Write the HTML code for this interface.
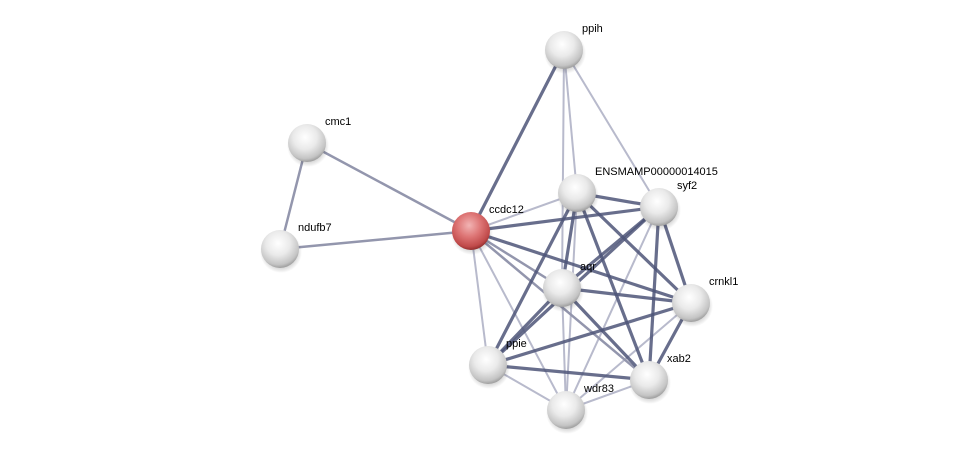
<!DOCTYPE html>
<html><head><meta charset="utf-8"><style>
html,body{margin:0;padding:0;background:#fff;}
svg{display:block;}
text{font-family:"Liberation Sans",sans-serif;font-size:11px;fill:#000;}
</style></head><body>
<svg width="975" height="455" viewBox="0 0 975 455">
<defs>
<radialGradient id="w" cx="0.45" cy="0.35" r="0.7">
<stop offset="0" stop-color="#ffffff"/><stop offset="0.45" stop-color="#eaeaea"/><stop offset="0.8" stop-color="#c4c4c4"/><stop offset="1" stop-color="#8a8a8a"/></radialGradient>
<radialGradient id="r" cx="0.45" cy="0.35" r="0.7">
<stop offset="0" stop-color="#f2b4b4"/><stop offset="0.45" stop-color="#dd7474"/><stop offset="0.8" stop-color="#c04a4a"/><stop offset="1" stop-color="#7a2020"/></radialGradient>
<radialGradient id="sh" cx="0.5" cy="0.5" r="0.5">
<stop offset="0.6" stop-color="#000" stop-opacity="0.25"/><stop offset="1" stop-color="#000" stop-opacity="0"/></radialGradient>
</defs>
<g stroke-linecap="round">
<g stroke="#b0b3c6" stroke-width="2" stroke-opacity="0.9">
<line x1="564" y1="50" x2="577" y2="193"/>
<line x1="564" y1="50" x2="659" y2="207"/>
<line x1="564" y1="50" x2="562" y2="288"/>
<line x1="471" y1="231" x2="577" y2="193"/>
<line x1="471" y1="231" x2="488" y2="365"/>
<line x1="471" y1="231" x2="566" y2="410"/>
<line x1="577" y1="193" x2="566" y2="410"/>
<line x1="659" y1="207" x2="566" y2="410"/>
<line x1="562" y1="288" x2="566" y2="410"/>
<line x1="691" y1="303" x2="566" y2="410"/>
<line x1="488" y1="365" x2="566" y2="410"/>
<line x1="649" y1="380" x2="566" y2="410"/>
</g>
<g stroke="#9396ad" stroke-width="2.5">
<line x1="471" y1="231" x2="307" y2="143"/>
<line x1="471" y1="231" x2="280" y2="249"/>
<line x1="307" y1="143" x2="280" y2="249"/>
<line x1="471" y1="231" x2="562" y2="288"/>
<line x1="471" y1="231" x2="649" y2="380"/>
</g>
<g stroke="#4e5578" stroke-width="3.2" stroke-opacity="0.85">
<line x1="471" y1="231" x2="564" y2="50"/>
<line x1="471" y1="231" x2="659" y2="207"/>
<line x1="471" y1="231" x2="691" y2="303"/>
<line x1="577" y1="193" x2="659" y2="207"/>
<line x1="577" y1="193" x2="562" y2="288"/>
<line x1="577" y1="193" x2="691" y2="303"/>
<line x1="577" y1="193" x2="649" y2="380"/>
<line x1="577" y1="193" x2="488" y2="365"/>
<line x1="659" y1="207" x2="562" y2="288"/>
<line x1="659" y1="207" x2="691" y2="303"/>
<line x1="659" y1="207" x2="649" y2="380"/>
<line x1="659" y1="207" x2="488" y2="365"/>
<line x1="562" y1="288" x2="691" y2="303"/>
<line x1="562" y1="288" x2="649" y2="380"/>
<line x1="562" y1="288" x2="488" y2="365"/>
<line x1="691" y1="303" x2="649" y2="380"/>
<line x1="691" y1="303" x2="488" y2="365"/>
<line x1="488" y1="365" x2="649" y2="380"/>
</g>
</g>
<g>
<circle cx="565" cy="53" r="21" fill="url(#sh)"/><circle cx="564" cy="50" r="19" fill="url(#w)"/>
<circle cx="308" cy="146" r="21" fill="url(#sh)"/><circle cx="307" cy="143" r="19" fill="url(#w)"/>
<circle cx="281" cy="252" r="21" fill="url(#sh)"/><circle cx="280" cy="249" r="19" fill="url(#w)"/>
<circle cx="472" cy="234" r="21" fill="url(#sh)"/><circle cx="471" cy="231" r="19" fill="url(#r)"/>
<circle cx="578" cy="196" r="21" fill="url(#sh)"/><circle cx="577" cy="193" r="19" fill="url(#w)"/>
<circle cx="660" cy="210" r="21" fill="url(#sh)"/><circle cx="659" cy="207" r="19" fill="url(#w)"/>
<circle cx="563" cy="291" r="21" fill="url(#sh)"/><circle cx="562" cy="288" r="19" fill="url(#w)"/>
<circle cx="692" cy="306" r="21" fill="url(#sh)"/><circle cx="691" cy="303" r="19" fill="url(#w)"/>
<circle cx="489" cy="368" r="21" fill="url(#sh)"/><circle cx="488" cy="365" r="19" fill="url(#w)"/>
<circle cx="650" cy="383" r="21" fill="url(#sh)"/><circle cx="649" cy="380" r="19" fill="url(#w)"/>
<circle cx="567" cy="413" r="21" fill="url(#sh)"/><circle cx="566" cy="410" r="19" fill="url(#w)"/>
</g>
<text x="582" y="32">ppih</text>
<text x="325" y="125">cmc1</text>
<text x="298" y="231">ndufb7</text>
<text x="489" y="213">ccdc12</text>
<text x="595" y="175">ENSMAMP00000014015</text>
<text x="677" y="189">syf2</text>
<text x="580" y="270">aqr</text>
<text x="709" y="285">crnkl1</text>
<text x="506" y="347">ppie</text>
<text x="667" y="362">xab2</text>
<text x="584" y="392">wdr83</text>
</svg>
</body></html>
